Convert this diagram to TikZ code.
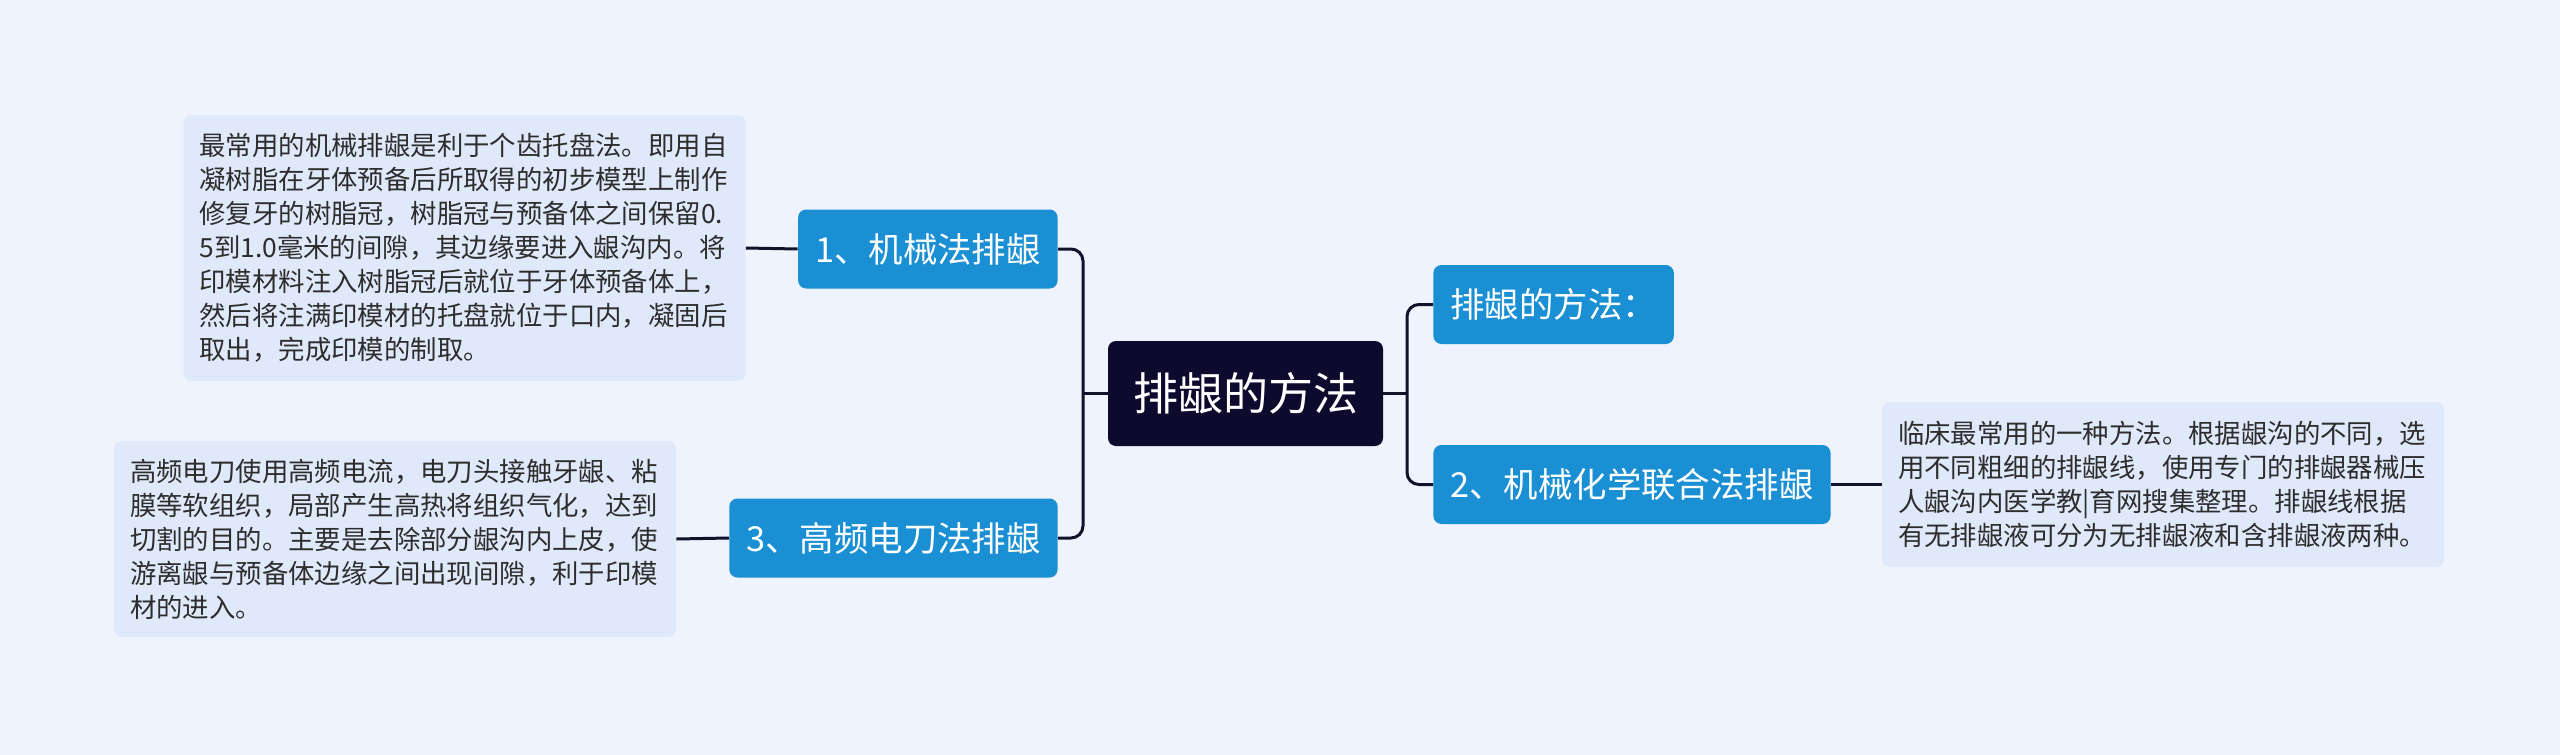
\documentclass[tikz,border=0pt]{standalone}
\usepackage{fontspec}
\newfontfamily\cjk{Noto Sans CJK SC}
\usepackage{tikz}
\usetikzlibrary{positioning, calc}
\definecolor{pagebg}{RGB}{238,243,253}
\definecolor{notefill}{RGB}{224,233,250}
\definecolor{topicblue}{RGB}{27,143,211}
\definecolor{rootnavy}{RGB}{13,10,46}
\definecolor{linkcol}{RGB}{18,18,42}
\definecolor{notetext}{RGB}{45,45,45}

\begin{document}
\begin{tikzpicture}[x=0.5pt, y=-0.5pt,
  rootbox/.style={fill=rootnavy, text=white, rounded corners=4pt, font=\cjk\fontsize{22.5}{27}\selectfont, minimum width=137.5pt, minimum height=52.5pt, inner sep=0pt},
  topic/.style={fill=topicblue, text=white, rounded corners=4pt, font=\cjk\fontsize{17.2}{21}\selectfont, minimum height=39.5pt, inner xsep=8.5pt, inner ysep=0pt},
  note/.style={fill=notefill, text=notetext, rounded corners=4pt, font=\cjk\fontsize{13.2}{17}\selectfont, align=left, inner xsep=8pt, text width=265pt},
  link/.style={draw=linkcol, line width=1.5pt, rounded corners=6pt}]
  % page
  \fill[pagebg] (0,0) rectangle (2560,755);
  \useasboundingbox (0,0) rectangle (2560,755);
  % root
  \node[rootbox] (root) at (1245.5,393.5) {排龈的方法};
  % left side
  \node[topic, anchor=east] (mech) at (1058,249) {1、机械法排龈};
  \node[topic, anchor=east] (elec) at (1058,538) {3、高频电刀法排龈};
  \node[note, minimum height=133pt] (mechnote) at (464.5,248) {最常用的机械排龈是利于个齿托盘法。即用自\\
凝树脂在牙体预备后所取得的初步模型上制作\\
修复牙的树脂冠，树脂冠与预备体之间保留0.\\
5到1.0毫米的间隙，其边缘要进入龈沟内。将\\
印模材料注入树脂冠后就位于牙体预备体上，\\
然后将注满印模材的托盘就位于口内，凝固后\\
取出，完成印模的制取。};
  \node[note, minimum height=98pt] (elecnote) at (395,539) {高频电刀使用高频电流，电刀头接触牙龈、粘\\
膜等软组织，局部产生高热将组织气化，达到\\
切割的目的。主要是去除部分龈沟内上皮，使\\
游离龈与预备体边缘之间出现间隙，利于印模\\
材的进入。};
  % right side
  \node[topic, anchor=west] (howto) at (1433,304.5) {排龈的方法：};
  \node[topic, anchor=west] (chem) at (1433,484.5) {2、机械化学联合法排龈};
  \node[note, minimum height=82.5pt] (chemnote) at (2163,484.5) {临床最常用的一种方法。根据龈沟的不同，选\\
用不同粗细的排龈线，使用专门的排龈器械压\\
人龈沟内医学教|育网搜集整理。排龈线根据\\
有无排龈液可分为无排龈液和含排龈液两种。};
  % connectors
  \coordinate (jl) at (1083,393.5);
  \coordinate (jr) at (1407,393.5);
  \draw[link] (root.west) -- (jl);
  \draw[link] (mech.east) -| (jl) |- (elec.east);
  \draw[link] (root.east) -- (jr);
  \draw[link] (howto.west) -| (jr) |- (chem.west);
  \draw[link] (mechnote.east) -- (mech.west);
  \draw[link] (elecnote.east) -- (elec.west);
  \draw[link] (chem.east) -- (chemnote.west);
\end{tikzpicture}
\end{document}
